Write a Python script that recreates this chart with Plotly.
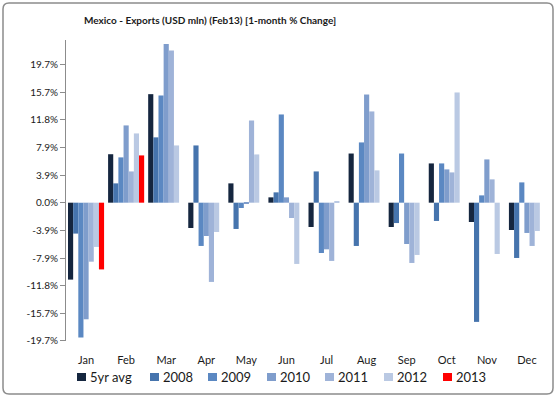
import plotly.graph_objects as go

months = ["Jan", "Feb", "Mar", "Apr", "May", "Jun", "Jul", "Aug", "Sep", "Oct", "Nov", "Dec"]

avg5 = [-10.95, 6.9, 15.45, -3.6, 2.75, 0.76, -3.46, 7.0, -3.46, 5.59, -2.75, -3.89]
y2008 = [-4.4, 2.75, 9.3, 8.15, -3.74, 1.47, 4.45, -6.16, -2.9, -2.6, -16.97, -7.87]
y2009 = [-19.2, 6.45, 15.26, -6.16, -0.76, 12.56, -7.16, 8.58, 7.0, 5.59, 1.04, 2.89]
y2010 = [-16.6, 11.0, 22.6, -4.74, -0.15, 0.76, -6.64, 15.4, -5.88, 4.74, 6.16, -4.31]
y2011 = [-8.4, 4.45, 21.66, -11.28, 11.7, -2.18, -8.29, 12.99, -8.58, 4.31, 3.32, -6.16]
y2012 = [-6.3, 9.86, 8.15, -4.17, 6.87, -8.72, 0.19, 4.6, -7.44, 15.69, -7.3, -4.03]
y2013 = [-9.5, 6.73, None, None, None, None, None, None, None, None, None, None]

series_names = ["5yr avg", "2008", "2009", "2010", "2011", "2012", "2013"]
series_values = [avg5, y2008, y2009, y2010, y2011, y2012, y2013]
series_colors = ["#15263f", "#4674ad", "#5b88c2", "#7f9dcc", "#9fb3d8", "#bac9e3", "#ff0000"]

tick_step = 3.937
tick_vals = [k * tick_step for k in range(-5, 6)]
tick_text = ["-19.7%", "-15.7%", "-11.8%", "-7.9%", "-3.9%", "0.0%", "3.9%", "7.9%", "11.8%", "15.7%", "19.7%"]
y_min, y_max = -19.69, 23.16

# layout geometry (pixels)
W, H = 557, 398
L, R, T, B = 66, 10, 40, 57
PW, PH = W - L - R, H - T - B
legend_swatch_px = [77, 150, 208, 267, 325, 384, 443]
legend_y_px = 377

FONT = "Lato, 'Liberation Sans', sans-serif"


def px_x(px):
    return (px - L) / PW


def px_y(py):
    return (H - B - py) / PH


fig = go.Figure()
for name, vals, col in zip(series_names, series_values, series_colors):
    fig.add_trace(go.Bar(x=months, y=vals, name=name, marker=dict(color=col, line=dict(width=0))))

zero_pos = (0 - y_min) / (y_max - y_min)
boundaries = [i - 0.5 for i in range(len(months) + 1)]

fig.update_layout(
    width=W, height=H,
    margin=dict(l=L, r=R, t=T, b=B),
    paper_bgcolor="white", plot_bgcolor="white",
    barmode="group", bargap=0.1, bargroupgap=0,
    font=dict(family=FONT, size=11, color="#1a1a1a"),
    title=dict(text="<b>Mexico - Exports (USD mln) (Feb13) [1-month % Change]</b>",
               font=dict(family=FONT, size=10, color="#1a1a1a"),
               x=px_x(84), xref="paper", xanchor="left",
               y=1 - 20 / H, yref="container", yanchor="middle"),
    xaxis=dict(type="category", categoryarray=months, showline=False, ticks="",
               showgrid=False, zeroline=False, tickfont=dict(size=11),
               ticklabelstandoff=11),
    xaxis2=dict(overlaying="x", anchor="free", position=zero_pos, range=[-0.5, len(months) - 0.5],
                type="linear", showline=True, linecolor="#8c8c8c", linewidth=1,
                ticks="outside", ticklen=4, tickcolor="#8c8c8c", tickvals=boundaries,
                showticklabels=False, showgrid=False, zeroline=False),
    yaxis=dict(range=[y_min, y_max], tickvals=tick_vals, ticktext=tick_text,
               showline=True, linecolor="#8c8c8c", linewidth=1,
               ticks="outside", ticklen=5, tickcolor="#8c8c8c",
               showgrid=False, zeroline=False, tickfont=dict(size=10)),
    showlegend=False,
)

# legend drawn from the series names / colours
for name, col, sx in zip(series_names, series_colors, legend_swatch_px):
    fig.add_shape(type="rect", xref="paper", yref="paper",
                  x0=px_x(sx), x1=px_x(sx + 9),
                  y0=px_y(legend_y_px + 4), y1=px_y(legend_y_px - 4),
                  line=dict(width=0), fillcolor=col)
    fig.add_annotation(text=name, xref="paper", yref="paper",
                       x=px_x(sx + 11), y=px_y(legend_y_px), xanchor="left", yanchor="middle",
                       showarrow=False, font=dict(family=FONT, size=13, color="#1a1a1a"))

# chart-area border with rounded corners (decoration)
bx0, bx1, by0, by1, rad = 3, 553, 3, 394, 6
pts = [
    f"M {px_x(bx0 + rad)},{px_y(by0)}",
    f"L {px_x(bx1 - rad)},{px_y(by0)}",
    f"Q {px_x(bx1)},{px_y(by0)} {px_x(bx1)},{px_y(by0 + rad)}",
    f"L {px_x(bx1)},{px_y(by1 - rad)}",
    f"Q {px_x(bx1)},{px_y(by1)} {px_x(bx1 - rad)},{px_y(by1)}",
    f"L {px_x(bx0 + rad)},{px_y(by1)}",
    f"Q {px_x(bx0)},{px_y(by1)} {px_x(bx0)},{px_y(by1 - rad)}",
    f"L {px_x(bx0)},{px_y(by0 + rad)}",
    f"Q {px_x(bx0)},{px_y(by0)} {px_x(bx0 + rad)},{px_y(by0)}",
    "Z",
]
fig.add_shape(type="path", xref="paper", yref="paper", path=" ".join(pts),
              line=dict(color="#8c8c8c", width=1.5), fillcolor="rgba(0,0,0,0)", layer="below")

fig.write_html("out.html", config={"displayModeBar": False},
               post_script="document.body.style.margin='0';")
